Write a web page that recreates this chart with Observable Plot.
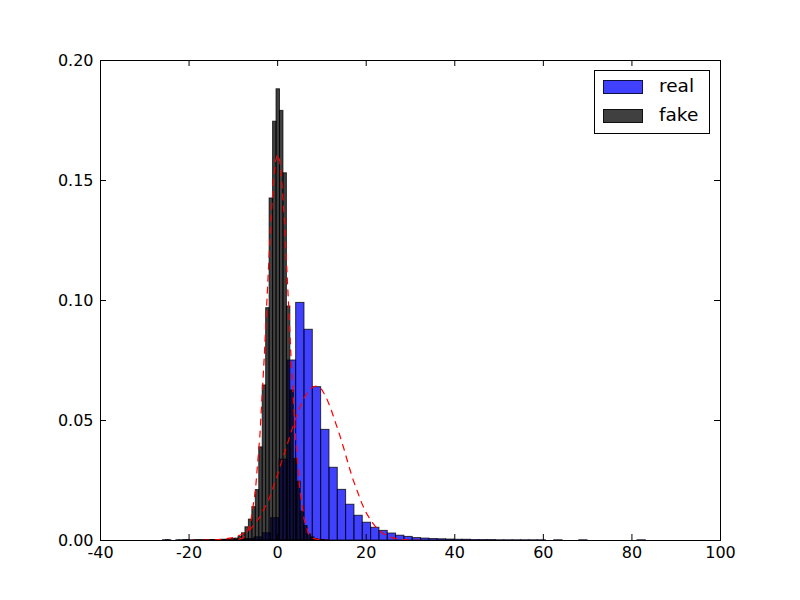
<!DOCTYPE html>
<html><head><meta charset="utf-8">
<script src="https://cdn.jsdelivr.net/npm/d3@7"></script>
<script src="https://cdn.jsdelivr.net/npm/@observablehq/plot@0.6"></script>
<style>
body{margin:0;background:#fff;}
#wrap{position:relative;width:800px;height:600px;font-family:"DejaVu Sans",sans-serif;}
#legend{position:absolute;left:594px;top:70px;width:116px;height:64px;border:1px solid #000;background:#fff;box-sizing:border-box;}
.item{position:absolute;left:8px;height:15px;}
.patch{position:absolute;left:0;top:0;width:40px;height:14px;border:1px solid rgba(0,0,0,0.75);box-sizing:border-box;}
.lab{position:absolute;left:56px;top:-5px;font-size:18.5px;line-height:22px;color:#000;white-space:nowrap;}
</style>
</head><body>
<div id="wrap"></div>
<script>
// tick labels
const xTicks = [-40, -20, 0, 20, 40, 60, 80, 100];
const yTicks = [0, 0.05, 0.10, 0.15, 0.20];

// real histogram (density), equal-width bins
const realBinStart = -25.9;
const realBinWidth = 1.88;
const realDensity = [
  0.0001, 0, 0.0001, 0.0001, 0.0001, 0.0002, 0.0002,
  0.0002, 0.0003, 0.0004, 0.0006, 0.0013, 0.003, 0.0093,
  0.0337, 0.075, 0.099, 0.0878, 0.0639, 0.0461, 0.0303, 0.0211, 0.0149, 0.0103,
  0.0074, 0.0053, 0.004, 0.0029, 0.002, 0.0015, 0.001, 0.0008, 0.0006, 0.0005,
  0.0004, 0.0003, 0.0003, 0.0002, 0.0002, 0.0002, 0.0001, 0.0001, 0.0001, 0.0001,
  0.0001, 0.0001, 0, 0.0001, 0, 0, 0.0001, 0, 0, 0, 0, 0, 0, 0.0001
];

// fake histogram (density), equal-width bins
const fakeBinStart = -25.21;
const fakeBinWidth = 0.78;
const fakeDensity = [
  0.0001, 0, 0, 0.0001, 0, 0.0001, 0.0001, 0, 0.0001, 0.0001, 0.0001, 0.0002, 0.0001,
  0.0002, 0.0002, 0.0002, 0.0003, 0.0003, 0.0004, 0.0006, 0.0008, 0.0015,
  0.003, 0.0055, 0.0087, 0.0139, 0.021, 0.0388, 0.0646, 0.0968, 0.1425, 0.1745,
  0.188, 0.179, 0.153, 0.0975, 0.0625, 0.034, 0.0245, 0.012, 0.006, 0.0025, 0.0013, 0.0006, 0.0003, 0.0002, 0.0001
];

// fitted normal curves
const realCurveX = [-25, -20, -15, -12, -10, -8, -6, -4, -2, 0, 1, 2, 3, 4, 5, 6, 7, 8, 9, 10, 11, 12, 13, 14, 15, 16, 17, 18, 19, 20, 21, 22, 23, 24, 26, 28, 30, 34, 40, 50, 60, 70, 83.5];
const realCurveY = [0, 0, 0.0002, 0.0006, 0.0012, 0.0026, 0.005, 0.0098, 0.017, 0.0275, 0.0335, 0.039, 0.045, 0.0505, 0.0555, 0.0595, 0.0625, 0.064, 0.0645, 0.0628, 0.0595, 0.055, 0.0495, 0.044, 0.038, 0.0315, 0.0255, 0.0205, 0.0155, 0.0115, 0.0085, 0.006, 0.004, 0.0027, 0.0011, 0.0004, 0.0001, 0, 0, 0, 0, 0, 0];
const fakeCurveX = [-25, -15, -12, -10, -8, -7, -6, -5, -4, -3, -2.5, -2, -1.5, -1, -0.5, 0, 0.5, 1, 1.5, 2, 2.5, 3, 4, 5, 6, 7, 8, 10, 12];
const fakeCurveY = [0, 0, 0, 0.0001, 0.0009, 0.0025, 0.0086, 0.0212, 0.044, 0.0772, 0.097, 0.116, 0.134, 0.148, 0.158, 0.161, 0.158, 0.148, 0.134, 0.116, 0.097, 0.0772, 0.044, 0.0212, 0.0086, 0.0025, 0.0009, 0.0001, 0];

const seriesNames = ["real", "fake"];

const realBars = realDensity.map((y, i) => ({x1: realBinStart + i * realBinWidth, x2: realBinStart + (i + 1) * realBinWidth, y}));
const fakeBars = fakeDensity.map((y, i) => ({x1: fakeBinStart + i * fakeBinWidth, x2: fakeBinStart + (i + 1) * fakeBinWidth, y}));
const realCurve = realCurveX.map((x, i) => ({x, y: realCurveY[i]}));
const fakeCurve = fakeCurveX.map((x, i) => ({x, y: fakeCurveY[i]}));

const chart = Plot.plot({
  width: 800, height: 600,
  marginLeft: 100, marginRight: 80, marginTop: 60, marginBottom: 60,
  x: {domain: [-40, 100]},
  y: {domain: [0, 0.2]},
  style: {fontFamily: "DejaVu Sans", fontSize: "16px", background: "white", color: "black"},
  marks: [
    Plot.rect(realBars, {x1: "x1", x2: "x2", y1: 0, y2: "y", fill: "blue", fillOpacity: 0.75, stroke: "black", strokeOpacity: 0.75, strokeWidth: 1}),
    Plot.rect(fakeBars, {x1: "x1", x2: "x2", y1: 0, y2: "y", fill: "black", fillOpacity: 0.75, stroke: "black", strokeOpacity: 0.75, strokeWidth: 1}),
    Plot.line(realCurve, {x: "x", y: "y", stroke: "red", strokeWidth: 1.2, strokeDasharray: "6,6"}),
    Plot.line(fakeCurve, {x: "x", y: "y", stroke: "red", strokeWidth: 1.2, strokeDasharray: "6,6"}),
    Plot.ruleX(xTicks, {x: d => d, insetTop: 474, stroke: "black"}),
    Plot.ruleX(xTicks, {x: d => d, insetBottom: 474, stroke: "black"}),
    Plot.ruleY(yTicks, {y: d => d, insetRight: 614, stroke: "black"}),
    Plot.ruleY(yTicks, {y: d => d, insetLeft: 614, stroke: "black"}),
    Plot.axisX(xTicks, {tickSize: 0, tickPadding: 6, tickFormat: d => String(d), label: null}),
    Plot.axisY(yTicks, {tickSize: 0, tickPadding: 7, tickFormat: d3.format(".2f"), label: null}),
    Plot.frame({stroke: "black"})
  ]
});

const wrap = document.getElementById("wrap");
wrap.appendChild(chart);

const legend = document.createElement("div");
legend.id = "legend";
const colors = {real: "rgba(0,0,255,0.75)", fake: "rgba(0,0,0,0.75)"};
seriesNames.forEach((name, i) => {
  const item = document.createElement("div");
  item.className = "item";
  item.style.top = (9 + i * 28.5) + "px";
  const p = document.createElement("div");
  p.className = "patch";
  p.style.background = colors[name];
  const t = document.createElement("div");
  t.className = "lab";
  t.textContent = name;
  item.appendChild(p);
  item.appendChild(t);
  legend.appendChild(item);
});
wrap.appendChild(legend);
</script>
</body></html>
